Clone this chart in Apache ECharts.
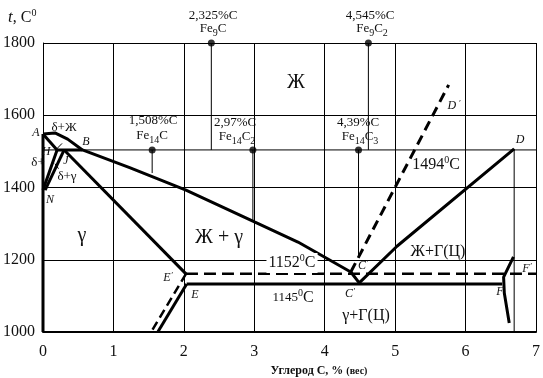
<!DOCTYPE html>
<html><head><meta charset="utf-8">
<script src="https://cdn.jsdelivr.net/npm/echarts@6/dist/echarts.min.js"></script>
<style>html,body{margin:0;padding:0;background:#fff}#c{width:543px;height:378px}</style>
</head><body><div id="c"></div>
<script>
// ---- data ----
const xTicks = [0,1,2,3,4,5,6,7];
const yTicks = [1000,1200,1400,1600,1800];
const liquidusABC = [[0,1548],[0.17,1551],[0.35,1534],[0.56,1504],[1.23,1455],[2.03,1393],[3.01,1304],[3.62,1249],[4.37,1166],[4.49,1136]];
const lineCD = [[4.49,1136],[5.03,1238],[6.69,1507]];
const lineAH = [[0,1548],[0.2,1504]];
const lineHB = [[0.2,1504],[0.56,1504]];
const lineHN = [[0.2,1504],[0,1393]];
const lineJN = [[0.3,1504],[0.03,1393]];
const lineJE = [[0.3,1504],[2.03,1161]];
const lineAxis0 = [[0,1548],[0,1000]];
const dashE1 = [[2.03,1161],[1.535,1000]];
const lineE = [[2.04,1133],[1.63,1000]];
const eutecticSolid = [[2.04,1133],[6.52,1133]];
const eutecticDash = [[2.03,1161],[7,1161]];
const dashCD = [[4.37,1166],[5.76,1684]];
const lineF = [[6.68,1208],[6.54,1152],[6.55,1108],[6.62,1025]];
const grid1500 = [[0,1504],[7,1504]];
const lineD = [[6.69,1507],[6.69,1000]];
const dropFe9C = [[2.39,1800],[2.39,1504]];
const dropFe9C2 = [[4.62,1800],[4.62,1504]];
const dropFe14C = [[1.55,1504],[1.55,1440]];
const dropFe14C2 = [[2.98,1504],[2.98,1307]];
const dropFe14C3 = [[4.48,1504],[4.48,1213]];
const dots = [[2.39,1800],[4.62,1800],[1.55,1504],[2.98,1504],[4.48,1504]];
const leaders = [[[0.27,1522],[0.2,1508]],[[0.17,1466],[0.22,1452]]];

const FF = '"Liberation Serif","DejaVu Serif",serif';
const INK = '#111';
const chart = echarts.init(document.getElementById('c'));

function L(data, w, dash, z){
  return {type:'line', data, symbol:'none', silent:true, animation:false, z:z||5,
    lineStyle:{color:'#000', width:w, type: dash || 'solid', cap:'butt'}};
}
const series = [
  L(grid1500,1), L(lineD,1), L(dropFe9C,1), L(dropFe9C2,1), L(dropFe14C,1), L(dropFe14C2,1), L(dropFe14C3,1),
  L(leaders[0],1), L(leaders[1],1),
  L(liquidusABC,3), L(lineCD,3), L(lineAH,3), L(lineHB,3), L(lineHN,3), L(lineJN,3), L(lineJE,3),
  L(lineAxis0,3), L(dashE1,2.5,[9,5]), L(lineE,3), L(eutecticSolid,3), L(eutecticDash,2.5,[12,6]),
  L(dashCD,3,[10,6]), L(lineF,3),
  {type:'scatter', data:dots, symbolSize:7, itemStyle:{color:'#000'}, silent:true, animation:false, z:10}
];

const rich = {
  n:{fontSize:13, fontFamily:FF, fill:INK, lineHeight:18, verticalAlign:'middle'},
  s:{fontSize:10, fontFamily:FF, fill:INK, lineHeight:10, verticalAlign:'bottom'},
  b:{fontSize:16, fontFamily:FF, fill:INK, lineHeight:20, verticalAlign:'middle'},
  p:{fontSize:10, fontFamily:FF, fill:INK, lineHeight:10, verticalAlign:'top'},
  m:{fontSize:13, fontFamily:FF, fill:INK, lineHeight:20, verticalAlign:'middle'},
  i:{fontSize:12, fontFamily:FF, fontStyle:'italic', fill:INK, lineHeight:14, verticalAlign:'middle'},
  ip:{fontSize:9, fontFamily:FF, fontStyle:'italic', fill:INK, lineHeight:9, verticalAlign:'top'},
  L:{fontSize:20, fontFamily:FF, fill:INK, lineHeight:22, verticalAlign:'middle'},
  t:{fontSize:17, fontFamily:FF, fontStyle:'italic', fill:INK, lineHeight:20, verticalAlign:'middle'},
  ax:{fontSize:12, fontFamily:FF, fontWeight:'bold', fill:INK, lineHeight:14, verticalAlign:'middle'},
  axs:{fontSize:10, fontFamily:FF, fontWeight:'bold', fill:INK, lineHeight:14, verticalAlign:'middle'}
};
function T(x,y,text,align,bg){
  const st = {text, x:0, y:0, align:align||'center', verticalAlign:'middle', rich, fill:INK, font:'13px '+FF};
  if(bg){ st.backgroundColor = '#fff'; st.padding=[0,2]; }
  return {type:'text', x, y, z:100, silent:true, style:st};
}
const graphic = [
  T(8,18,'{t|t}{b|, C}{p|0}','left'),
  T(213,16,'{n|2,325%C}'), T(213,29,'{n|Fe}{s|9}{n|C}'),
  T(370,16,'{n|4,545%C}'), T(372,29,'{n|Fe}{s|9}{n|C}{s|2}'),
  T(296,83,'{L|Ж}'),
  T(153,121,'{n|1,508%C}'), T(152,136,'{n|Fe}{s|14}{n|C}'),
  T(235,123,'{n|2,97%C}'), T(237,137,'{n|Fe}{s|14}{n|C}{s|2}'),
  T(358,123,'{n|4,39%C}'), T(360,137,'{n|Fe}{s|14}{n|C}{s|3}'),
  T(454,106,'{i|D}{ip| \u2032}'),
  T(520,140,'{i|D}'),
  T(436,165,'{b|1494}{p|0}{b|C}'),
  T(36,133,'{i|A}'), T(64,128,'{n|δ+Ж}'), T(86,142,'{i|B}'),
  T(46,152,'{i|H}'), T(38,163,'{n|δ+}'), T(66,161,'{i|J}'), T(67,177,'{n|δ+γ}'), T(50,200,'{i|N}'),
  T(82,236,'{L|γ}'),
  T(219,238,'{L|Ж + γ}'),
  T(292,263,'{b|1152}{p|0}{b|C}','center',true),
  T(363,266,'{i|C}{ip|\u2032}'),
  T(350,294,'{i|C}{ip|\u2032}'),
  T(293,298,'{m|1145}{p|0}{b|C}'),
  T(366,316,'{b|γ+Г(Ц)}'),
  T(438,252,'{b|Ж+Г(Ц)}'),
  T(168,278,'{i|E}{ip|\u2032}'),
  T(195,295,'{i|E}'),
  T(527,269,'{i|F}{ip|\u2032}'),
  T(500,292,'{i|F}'),
  T(319,371,'{ax|Углерод С, % }{axs|(вес)}')
];

chart.setOption({
  animation:false,
  backgroundColor:'#fff',
  grid:{left:43, right:3, top:43, bottom:46, containLabel:false},
  xAxis:{type:'value', min:xTicks[0], max:xTicks[xTicks.length-1], interval:1,
    axisLine:{show:true, onZero:false, lineStyle:{color:'#000', width:2}},
    axisTick:{show:false},
    axisLabel:{color:INK, fontSize:16, fontFamily:FF, margin:12, showMinLabel:true, showMaxLabel:true,
      formatter:v=>xTicks.includes(v)?String(v):''},
    splitLine:{show:true, lineStyle:{color:'#000', width:1}}},
  yAxis:{type:'value', min:yTicks[0], max:yTicks[yTicks.length-1], interval:200,
    axisLine:{show:true, onZero:false, lineStyle:{color:'#000', width:1}},
    axisTick:{show:false},
    axisLabel:{color:INK, fontSize:16, fontFamily:FF, margin:8, showMinLabel:true, showMaxLabel:true,
      formatter:v=>yTicks.includes(v)?String(v):''},
    splitLine:{show:true, lineStyle:{color:'#000', width:1}}},
  series,
  graphic
});
</script></body></html>
